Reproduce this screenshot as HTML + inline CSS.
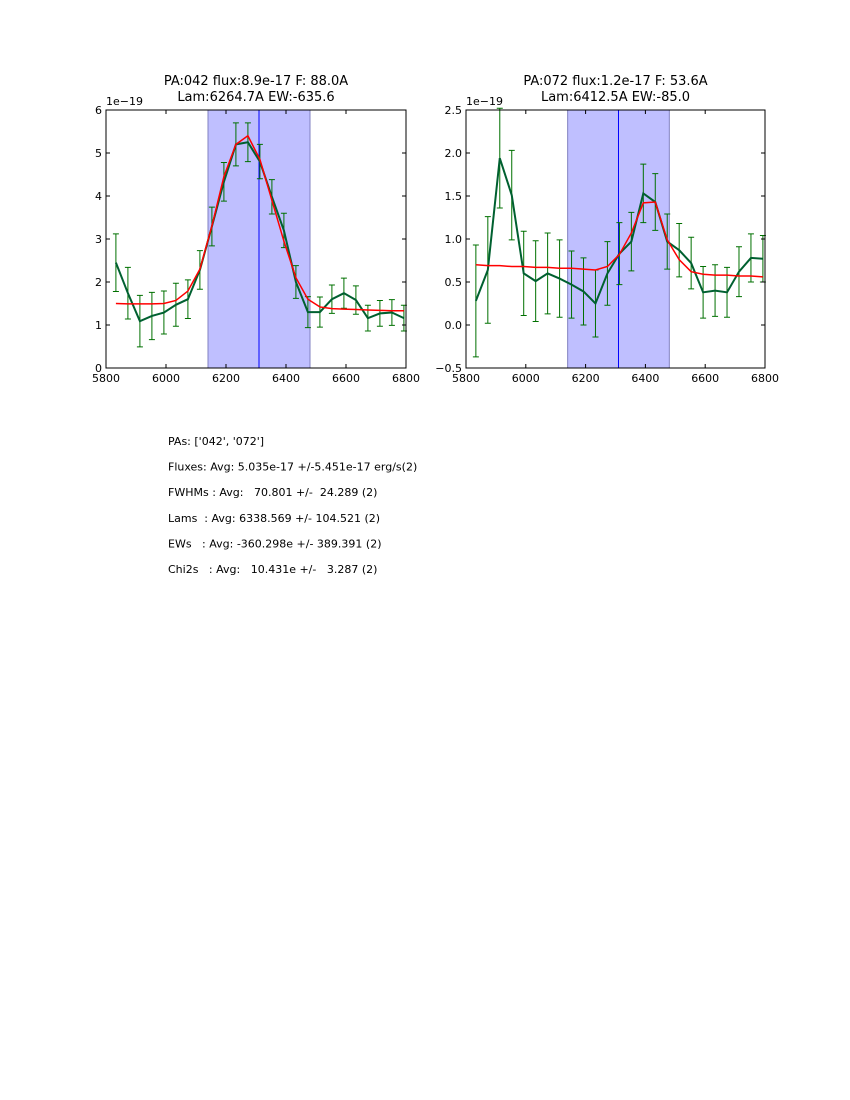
<!DOCTYPE html>
<html><head><meta charset="utf-8"><style>
body{margin:0;background:#fff;width:850px;height:1100px;overflow:hidden}
svg{position:absolute;left:0;top:0}
text{font-family:"DejaVu Sans","Liberation Sans",sans-serif;fill:#000}
</style></head><body>
<svg id="s" width="850" height="1100"></svg>
<script>
const lams=[5833,5873,5913,5953,5993,6033,6073,6113,6153,6193,6233,6273,6313,6353,6393,6433,6473,6513,6553,6593,6633,6673,6713,6753,6793];
const flux1=[2.45,1.74,1.09,1.21,1.29,1.47,1.6,2.28,3.29,4.33,5.2,5.25,4.8,3.98,3.2,2.0,1.3,1.3,1.6,1.74,1.58,1.16,1.27,1.29,1.16];
const err1=[0.67,0.6,0.6,0.55,0.5,0.5,0.45,0.45,0.45,0.45,0.5,0.45,0.4,0.4,0.4,0.38,0.36,0.35,0.33,0.35,0.33,0.3,0.3,0.3,0.3];
const fit1=[1.5,1.49,1.49,1.49,1.5,1.57,1.79,2.3,3.3,4.45,5.2,5.4,4.85,3.9,2.95,2.1,1.6,1.42,1.38,1.37,1.36,1.35,1.34,1.33,1.33];
const flux2=[0.28,0.64,1.94,1.51,0.6,0.51,0.6,0.54,0.47,0.39,0.25,0.6,0.83,0.97,1.53,1.43,0.97,0.87,0.72,0.38,0.4,0.38,0.62,0.78,0.77];
const err2=[0.65,0.62,0.58,0.52,0.49,0.47,0.47,0.45,0.39,0.39,0.39,0.37,0.36,0.34,0.34,0.33,0.32,0.31,0.3,0.3,0.3,0.29,0.29,0.28,0.27];
const fit2=[0.7,0.69,0.69,0.68,0.68,0.67,0.67,0.66,0.66,0.65,0.64,0.68,0.82,1.07,1.42,1.43,0.99,0.76,0.62,0.59,0.58,0.58,0.57,0.57,0.56];
const xTicks=[5800,6000,6200,6400,6600,6800];
const yTicks1=[0,1,2,3,4,5,6];
const yTicks2=[-0.5,0,0.5,1.0,1.5,2.0,2.5];
const yLabels2=["−0.5","0.0","0.5","1.0","1.5","2.0","2.5"];
const ns="http://www.w3.org/2000/svg";
const S=document.getElementById('s');
function mk(t,a,p,txt){const e=document.createElementNS(ns,t);for(const k in a)e.setAttribute(k,a[k]);if(txt!==undefined)e.textContent=txt;(p||S).appendChild(e);return e;}
function panel(o){
 const g=mk('g',{});
 
 
 const X=v=>o.x0+(v-5800)/1000*(o.x1-o.x0);
 const Y=v=>o.y1-(v-o.ymin)/(o.ymax-o.ymin)*(o.y1-o.y0);
 const sp=mk('rect',{x:X(6140),y:o.y0,width:X(6480)-X(6140),height:o.y1-o.y0,fill:'#bfbfff',stroke:'#8080c0','stroke-width':1},g);
 
 const vl=mk('line',{x1:X(6310),x2:X(6310),y1:o.y0,y2:o.y1,stroke:'#0000ff','stroke-width':1},g);
 
 o.flux.forEach((f,i)=>{const x=X(lams[i]),a=Y(f+o.err[i]),b=Y(f-o.err[i]);
  const eb=mk('path',{d:`M${x},${a}V${b}M${x-3},${a}H${x+3}M${x-3},${b}H${x+3}`,stroke:'#007000','stroke-width':1,fill:'none'},g);
  });
 const dl=mk('polyline',{points:o.flux.map((f,i)=>X(lams[i])+','+Y(f)).join(' '),fill:'none',stroke:'#006030','stroke-width':2},g);
 
 const fl=mk('polyline',{points:o.fit.map((f,i)=>X(lams[i])+','+Y(f)).join(' '),fill:'none',stroke:'#ff0000','stroke-width':1.5},g);
 
 mk('rect',{x:o.x0,y:o.y0,width:o.x1-o.x0,height:o.y1-o.y0,fill:'none',stroke:'#000','stroke-width':1},g);
 xTicks.forEach(t=>{const x=X(t);mk('path',{d:`M${x},${o.y1}v-4M${x},${o.y0}v4`,stroke:'#000'},g);
  const tl=mk('text',{x:x,y:o.y1+14,'font-size':11,'text-anchor':'middle'},g,String(t));
  });
 o.yt.forEach((t,i)=>{const y=Y(t);mk('path',{d:`M${o.x0},${y}h4M${o.x1},${y}h-4`,stroke:'#000'},g);
  const tl=mk('text',{x:o.x0-4,y:y+4,'font-size':11,'text-anchor':'end'},g,o.yl[i]);
  });
 const off=mk('text',{x:o.x0,y:o.y0-5,'font-size':11},g,'1e−19');
 
 o.title.forEach((t,i)=>{const tt=mk('text',{x:(o.x0+o.x1)/2,y:o.y0-25+i*16,'font-size':13,'text-anchor':'middle'},g,t);
  });
}
panel({name:'panel-pa042',x0:106,x1:406,y0:110,y1:368,ymin:0,ymax:6,flux:flux1,err:err1,fit:fit1,yt:yTicks1,yl:yTicks1.map(String),title:['PA:042 flux:8.9e-17 F: 88.0A','Lam:6264.7A EW:-635.6']});
panel({name:'panel-pa072',x0:466,x1:765,y0:110,y1:368,ymin:-0.5,ymax:2.5,flux:flux2,err:err2,fit:fit2,yt:yTicks2,yl:yLabels2,title:['PA:072 flux:1.2e-17 F: 53.6A','Lam:6412.5A EW:-85.0']});
const stats=["PAs: ['042', '072']","Fluxes: Avg: 5.035e-17 +/-5.451e-17 erg/s(2)","FWHMs : Avg:   70.801 +/-  24.289 (2)","Lams  : Avg: 6338.569 +/- 104.521 (2)","EWs   : Avg: -360.298e +/- 389.391 (2)","Chi2s   : Avg:   10.431e +/-   3.287 (2)"];
stats.forEach((t,i)=>{const e=mk('text',{x:168,y:445+i*25.6,'font-size':11,'xml:space':'preserve'},S,t);
 e.setAttribute('style','white-space:pre');
 
 });
</script>
</body></html>
